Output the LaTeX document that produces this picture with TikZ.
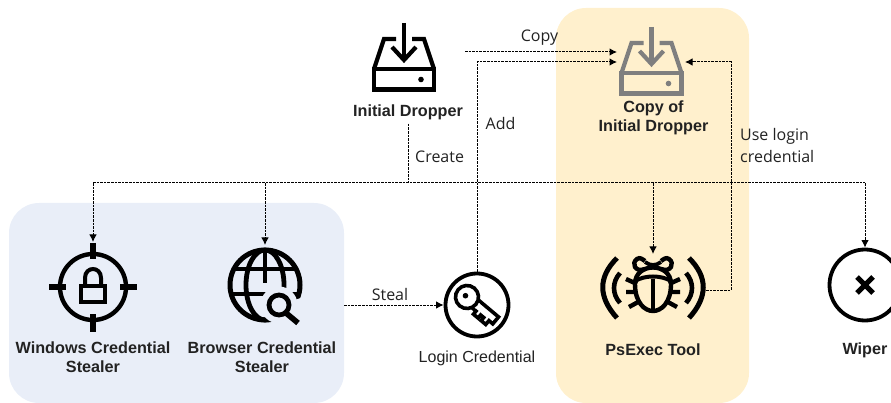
\documentclass[tikz,border=0pt]{standalone}
\usepackage{fontspec}
\setmainfont{Liberation Sans}
\newfontfamily\linkfont{Open Sans}
\usetikzlibrary{arrows.meta}
\definecolor{groupblue}{HTML}{E9EEF8}
\definecolor{groupgold}{HTML}{FFF0CD}
\definecolor{iconcopy}{HTML}{7F7F7F}
\definecolor{inktext}{HTML}{222222}
\tikzset{
  x=1pt,y=-1pt,
  link/.style={line width=1pt,dash pattern=on 2.6pt off 1pt,black},
  linkarrow/.style={link,-{Latex[length=7.5pt,width=7.5pt]}},
  groupbox/.style={rounded corners=30pt,inner sep=0pt,outer sep=0pt},
  iconspot/.style={inner sep=0pt,outer sep=0pt},
  ringicon/.style={circle,draw=black,fill=white,line width=3.8pt,inner sep=0pt},
  boldlabel/.style={font=\fontsize{16.2}{19}\selectfont\bfseries,text=inktext,align=center,inner sep=0pt},
  plainlabel/.style={font=\fontsize{16}{19}\selectfont,text=inktext,align=center,inner sep=0pt},
  linklabel/.style={font=\linkfont\fontsize{16}{22}\selectfont,text=inktext,align=left,inner sep=0pt},
  trayicon/.pic={
    \draw[line width=4.2pt] (-30,12) rectangle (30,32.5);
    \draw[line width=4.2pt,line join=miter] (-30,12) -- (-20,-18) -- (-8,-18);
    \draw[line width=4.2pt,line join=miter] (30,12) -- (20,-18) -- (8,-18);
    \draw[line width=4.2pt] (0,-34) -- (0,2);
    \draw[line width=4.2pt,line join=miter] (-12,-10) -- (0,3) -- (12,-10);
    \fill (17,22.5) circle (2.8);
  },
  locktarget/.pic={
    \draw[line width=4.4pt] (0,0) circle (33);
    \draw[line width=5.6pt] (-44,0) -- (-27,0) (27,0) -- (44,0) (0,-44) -- (0,-28) (0,27) -- (0,45);
    \draw[line width=4pt] (-12,-1) rectangle (12,14.5);
    \draw[line width=4pt] (-8,-1) -- (-8,-9) .. controls (-8,-21) and (8,-21) .. (8,-9) -- (8,-1);
  },
  globeicon/.pic={
    \draw[line width=5pt] (0,0) circle (35);
    \draw[line width=4.8pt] (0,0) ellipse (19 and 35);
    \draw[line width=4.8pt] (-31,-16) -- (31,-16) (-34,9) -- (34,9) (0,-35) -- (0,-2);
    \fill[groupblue] (14,20) circle (18.5);
    \fill[groupblue] (14,20) -- (45,40) -- (45,10) -- cycle;
    \draw[line width=4.8pt] (14,20) circle (10);
    \draw[line width=5.6pt] (21,28) -- (33,38);
  },
  keyglyph/.pic={
    \begin{scope}[shift={(-10,-8)},rotate=-40]
      \draw[line width=3.6pt,line join=miter]
        (5,-5) -- (37,-5) -- (37,4) -- (32,4) -- (32,9) -- (26,9) -- (26,5) -- (22,5) -- (22,9) -- (16,9) -- (16,5) -- (5,5);
      \fill[white] (6,-3.2) rectangle (14,3.2);
      \draw[line width=3.6pt,fill=white] (0,0) circle (11.5);
      \fill (-2,0) circle (2.8);
    \end{scope}
  },
  bugglyph/.pic={
    \draw[line width=5pt] (-36,-29) .. controls (-55,-10) and (-55,10) .. (-36,31);
    \draw[line width=5pt] (36,-29) .. controls (55,-10) and (55,10) .. (36,31);
    \draw[line width=4.6pt] (-33,-14) .. controls (-41,-5) and (-41,7) .. (-33,16);
    \draw[line width=4.6pt] (33,-14) .. controls (41,-5) and (41,7) .. (33,16);
    \draw[line width=4.4pt] (-18,-3) .. controls (-18,-25) and (18,-25) .. (18,-3) .. controls (18,16) and (8,24) .. (0,24) .. controls (-8,24) and (-18,16) .. (-18,-3) -- cycle;
    \draw[line width=4pt] (-18,-6) .. controls (-8,-12) and (8,-12) .. (18,-6);
    \draw[line width=4pt] (0,-8) -- (0,24);
    \draw[line width=4.4pt] (-8,-18) .. controls (-18,-14) and (-22,-24) .. (-16,-28) .. controls (-13,-30) and (-11,-28) .. (-8,-26);
    \draw[line width=4.4pt] (8,-18) .. controls (18,-14) and (22,-24) .. (16,-28) .. controls (13,-30) and (11,-28) .. (8,-26);
    \draw[line width=3.8pt] (-8,-25) .. controls (-3,-21) and (3,-21) .. (8,-25);
    \draw[line width=4.4pt] (-27,-8) -- (-16,-3) (27,-8) -- (16,-3) (-27,5) -- (-17,5) (27,5) -- (17,5) (-24,20) -- (-13,14) (24,20) -- (13,14);
  },
}
\begin{document}
\begin{tikzpicture}
  \clip (0,0) rectangle (891,403);
  \useasboundingbox (0,0) rectangle (891,403);
  \node[groupbox,fill=groupblue,minimum width=335pt,minimum height=200pt] (stealers) at (176.5,303) {};
  \node[groupbox,fill=groupgold,minimum width=193pt,minimum height=395pt] (copies) at (652.5,205.5) {};

  \node[iconspot,minimum width=64pt,minimum height=70pt] (dropper) at (404,57) {};
  \node[iconspot,minimum width=69pt,minimum height=70pt] (copyicon) at (651.5,61) {};
  \node[iconspot,minimum width=88pt,minimum height=90pt] (wincred) at (93,287) {};
  \node[iconspot,minimum width=74pt,minimum height=80pt] (browser) at (265,285) {};
  \node[iconspot,minimum width=106pt,minimum height=72pt] (bug) at (653,290) {};
  \node[ringicon,minimum size=63pt] (keyring) at (477,305) {};
  \node[ringicon,minimum size=71pt,fill=none] (wiperring) at (865,285) {};

  \pic at (dropper) {trayicon};
  \pic[color=iconcopy] at (copyicon) {trayicon};
  \pic at (wincred) {locktarget};
  \pic at (browser) {globeicon};
  \pic at (keyring) {keyglyph};
  \pic at (653,287) {bugglyph};
  \draw[line width=5pt] (wiperring.center) ++(-8,-8) -- ++(16,16) ++(0,-16) -- ++(-16,16);

  \node[boldlabel] (droplabel) at (408,112) {Initial Dropper};
  \node[boldlabel] (copylabel) at (653.5,117.5) {Copy of\\Initial Dropper};
  \node[boldlabel] (winlabel) at (93,357.5) {Windows Credential\\Stealer};
  \node[boldlabel] (browserlabel) at (262,357.5) {Browser Credential\\Stealer};
  \node[boldlabel] (psexeclabel) at (653,350) {PsExec Tool};
  \node[boldlabel] (wiperlabel) at (865,350) {Wiper};
  \node[plainlabel] (keylabel) at (477,358.5) {Login Credential};

  \node[linklabel] (copytext) at (539.5,37.5) {Copy};
  \node[linklabel] (addtext) at (500.5,124) {Add};
  \node[linklabel,anchor=west] (createtext) at (415,156.5) {Create};
  \node[linklabel] (stealtext) at (390,294.5) {Steal};
  \node[linklabel,anchor=north west] (usetext) at (740,128) {Use login\\credential};

  \coordinate (bus) at (408,183);
  \coordinate (copyout) at (465,52);
  \coordinate (sharedin) at (617,62);
  \coordinate (rightin) at (685,62);
  \coordinate (rightturn) at (731,62);

  \draw[linkarrow] (copyout) -- (copyicon.west |- copyout);
  \draw[linkarrow] (keyring.north) -- (keyring.north |- sharedin) -- (sharedin);
  \draw[link,shorten <=4pt] (droplabel.south -| bus) -- (bus);
  \draw[link] (wincred.north |- bus) -- (wiperring.north |- bus);
  \draw[linkarrow] (wincred.north |- bus) -- (wincred.north);
  \draw[linkarrow] (browser.north |- bus) -- (browser.north);
  \draw[linkarrow] (bug.north |- bus) -- (bug.north);
  \draw[linkarrow] (wiperring.north |- bus) -- (wiperring.north);
  \draw[linkarrow] (stealers.east |- keyring) -- (keyring.west);
  \draw[linkarrow] (bug.east) -- (rightturn |- bug.east) -- (rightturn) -- (rightin);
\end{tikzpicture}
\end{document}
